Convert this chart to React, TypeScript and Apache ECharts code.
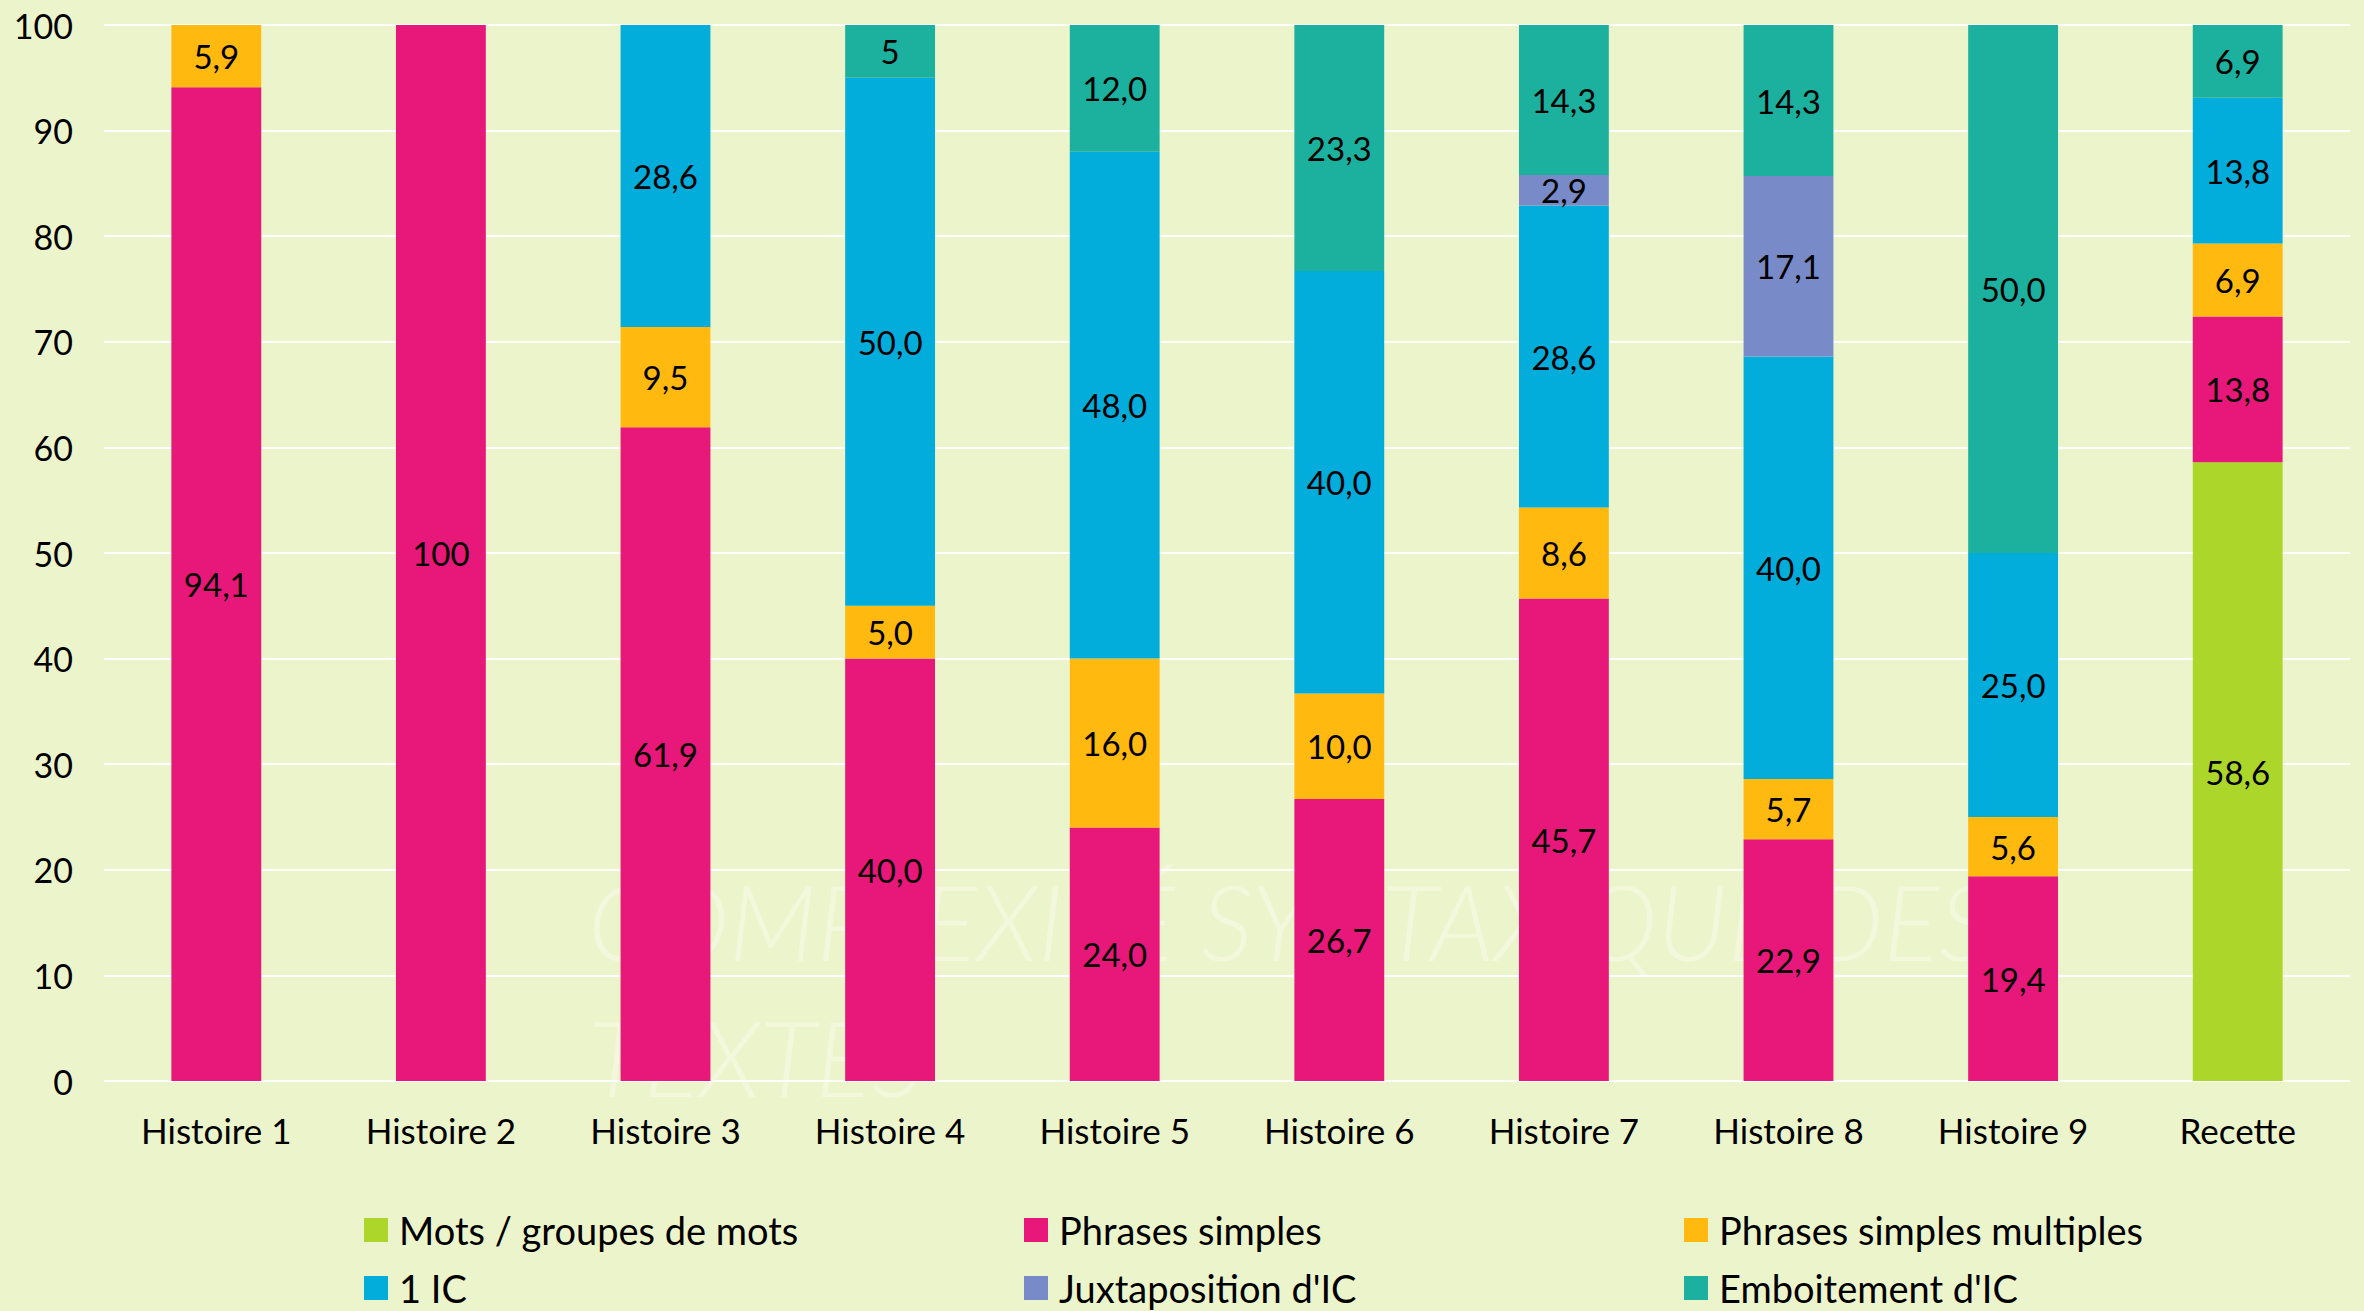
import React, { useEffect, useRef } from "react";
import * as echarts from "echarts";

const categories = ["Histoire 1", "Histoire 2", "Histoire 3", "Histoire 4", "Histoire 5", "Histoire 6", "Histoire 7", "Histoire 8", "Histoire 9", "Recette"];

const motsGroupes = [null, null, null, null, null, null, null, null, null, 58.6];
const phrasesSimples = [94.1, 100, 61.9, 40.0, 24.0, 26.7, 45.7, 22.9, 19.4, 13.8];
const phrasesMultiples = [5.9, null, 9.5, 5.0, 16.0, 10.0, 8.6, 5.7, 5.6, 6.9];
const unIC = [null, null, 28.6, 50.0, 48.0, 40.0, 28.6, 40.0, 25.0, 13.8];
const juxtaposition = [null, null, null, null, null, null, 2.9, 17.1, null, null];
const emboitement = [null, null, null, 5, 12.0, 23.3, 14.3, 14.3, 50.0, 6.9];

// labels shown without decimal in the original
const labelOverrides: Record<string, string> = {
  "Phrases simples|Histoire 2": "100",
  "Emboitement d'IC|Histoire 4": "5",
};

const seriesDefs = [
  { name: "Mots / groupes de mots", data: motsGroupes, color: "#add62b" },
  { name: "Phrases simples", data: phrasesSimples, color: "#e8177a" },
  { name: "Phrases simples multiples", data: phrasesMultiples, color: "#ffb90f" },
  { name: "1 IC", data: unIC, color: "#02acdb" },
  { name: "Juxtaposition d'IC", data: juxtaposition, color: "#788ac7" },
  { name: "Emboitement d'IC", data: emboitement, color: "#1bb19e" },
];

const FONT = "Lato";

export default function App() {
  const ref = useRef<HTMLDivElement>(null);
  useEffect(() => {
    document.body.style.margin = "0";
    const chart = echarts.init(ref.current!, null, { renderer: "svg" });
    const legendText = {
      fontFamily: FONT,
      fontSize: 38,
      color: "#000",
      lineHeight: 40,
      padding: [0, 0, 0, 6],
    };
    const mkLegend = (left: number, names: string[]) => ({
      orient: "vertical",
      left,
      top: 1210,
      width: 640,
      height: 140,
      padding: 0,
      itemWidth: 24,
      itemHeight: 24,
      itemGap: 18,
      icon: "rect",
      data: names,
      textStyle: legendText,
      selectedMode: false,
    });
    chart.setOption({
      animation: false,
      backgroundColor: "#ecf4cc",
      textStyle: { fontFamily: FONT },
      graphic: [
        {
          type: "text",
          z: 0,
          silent: true,
          left: 588,
          top: 852,
          style: {
            text: "COMPLEXITÉ SYNTAXIQUE DES\nTEXTES",
            fontFamily: FONT,
            fontStyle: "italic",
            fontWeight: 300,
            fontSize: 104,
            lineHeight: 136,
            fill: "#f3f8dd",
          },
        },
      ],
      grid: { left: 104, right: 14, top: 25, bottom: 230, containLabel: false },
      legend: [
        mkLegend(364, [seriesDefs[0].name, seriesDefs[3].name]),
        mkLegend(1024, [seriesDefs[1].name, seriesDefs[4].name]),
        mkLegend(1684, [seriesDefs[2].name, seriesDefs[5].name]),
      ],
      xAxis: {
        type: "category",
        data: categories,
        axisLine: { show: false },
        axisTick: { show: false },
        axisLabel: { fontFamily: FONT, fontSize: 35, color: "#000", margin: 31 },
      },
      yAxis: {
        type: "value",
        min: 0,
        max: 100,
        interval: 10,
        axisLine: { show: false },
        axisTick: { show: false },
        axisLabel: { fontFamily: FONT, fontSize: 34, color: "#000", margin: 31 },
        splitLine: { lineStyle: { color: "#ffffff", width: 2 } },
      },
      series: seriesDefs.map((s) => ({
        type: "bar",
        name: s.name,
        stack: "total",
        data: s.data,
        barWidth: "40%",
        itemStyle: { color: s.color },
        label: {
          show: true,
          position: "inside",
          fontFamily: FONT,
          fontSize: 33,
          color: "#000",
          formatter: (p: any) => {
            const key = s.name + "|" + p.name;
            if (labelOverrides[key]) return labelOverrides[key];
            return Number(p.value).toFixed(1).replace(".", ",");
          },
        },
      })),
    });
    return () => chart.dispose();
  }, []);
  return <div ref={ref} style={{ width: 2364, height: 1311 }} />;
}
